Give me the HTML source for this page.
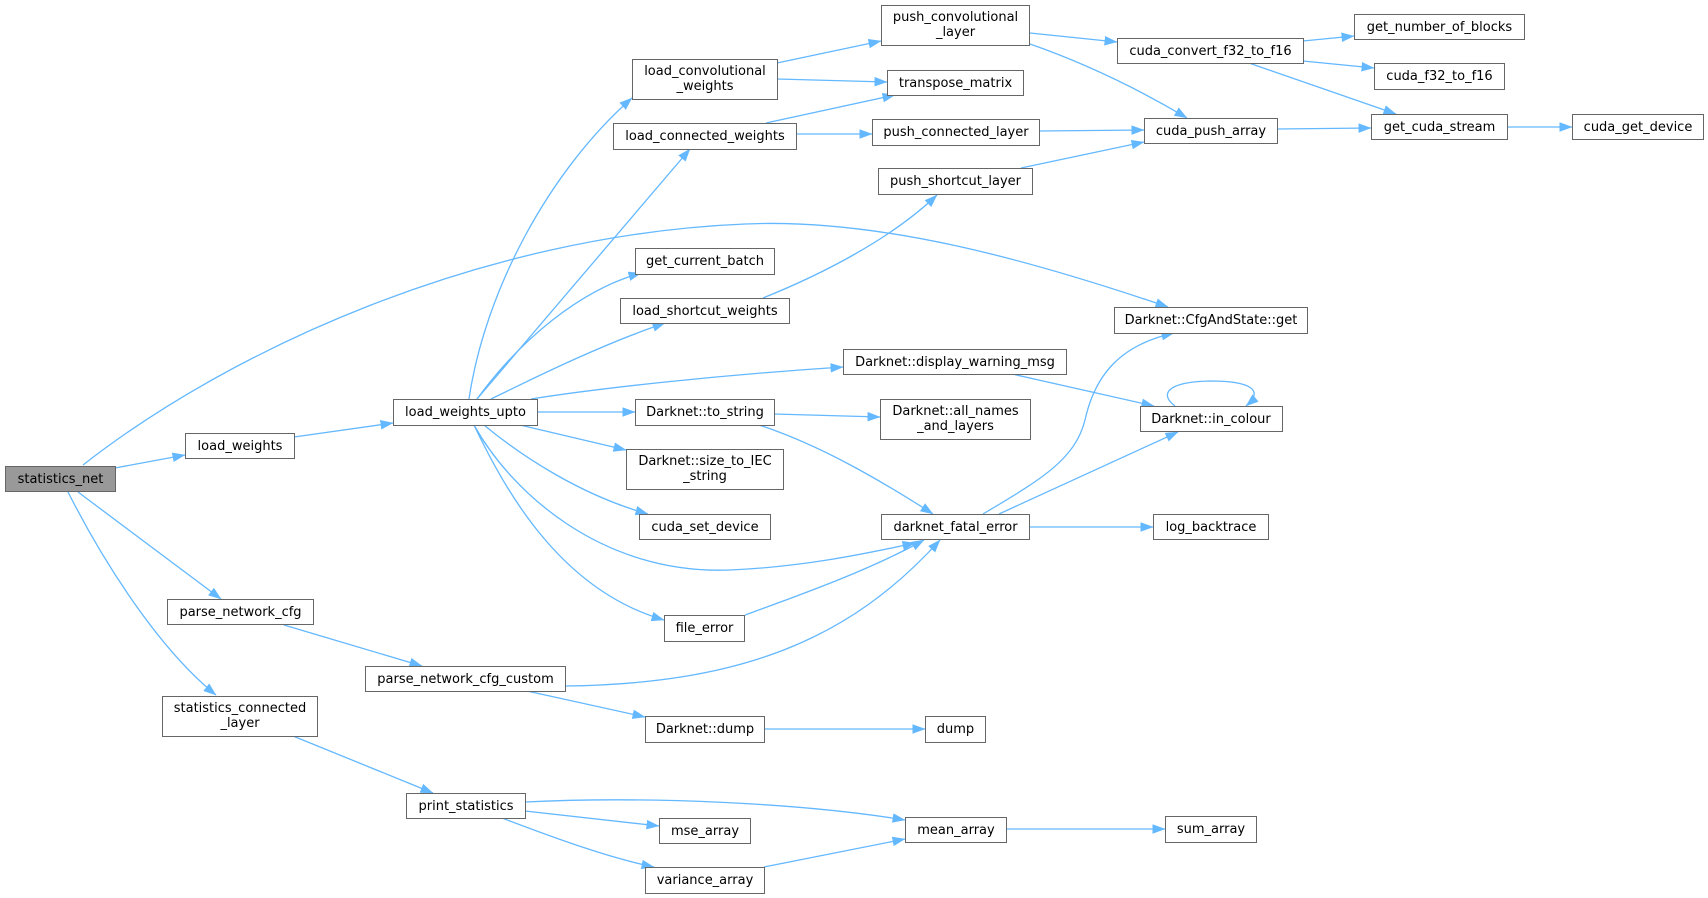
<!DOCTYPE html>
<html>
<head>
<meta charset="utf-8">
<style>
  html,body{margin:0;padding:0;background:#fff;}
  svg{display:block;}
  .n rect{fill:#fff;stroke:#666;stroke-width:1;}
  .n.root rect{fill:#999;}
  text{font-family:"DejaVu Sans","Liberation Sans",sans-serif;font-size:13px;fill:#000;text-anchor:middle;}
  .e{fill:none;stroke:#63b8ff;stroke-width:1.3;marker-end:url(#ah);}
</style>
</head>
<body>
<svg width="1708" height="898" viewBox="0 0 1708 898" xmlns="http://www.w3.org/2000/svg">
<defs>
  <marker id="ah" viewBox="0 0 13 9.5" refX="12.5" refY="4.75" markerUnits="userSpaceOnUse" markerWidth="13" markerHeight="9.5" orient="auto">
    <path d="M0,0 L13,4.75 L0,9.5 z" fill="#63b8ff"/>
  </marker>
</defs>

<!-- edges -->
<path class="e" d="M115,468 L185,455"/>
<path class="e" d="M83,465 C230,350 480,235 745,224 C880,218 1030,260 1168,307"/>
<path class="e" d="M78,492 L221,599"/>
<path class="e" d="M68,492 C105,565 160,650 216,695"/>
<path class="e" d="M294,437 L393,423"/>
<path class="e" d="M469,399 C485,290 550,170 632,98"/>
<path class="e" d="M477,399 L690,149"/>
<path class="e" d="M477,399 C520,340 580,290 641,273"/>
<path class="e" d="M491,399 C530,380 600,345 665,323"/>
<path class="e" d="M531,399 C600,388 720,375 843,367"/>
<path class="e" d="M537,412 L635,412"/>
<path class="e" d="M520,425 L626,450"/>
<path class="e" d="M484,425 C520,455 580,495 648,514"/>
<path class="e" d="M474,425 C510,490 600,575 730,570 C800,567 860,555 915,543"/>
<path class="e" d="M474,425 C505,490 560,590 664,620"/>
<path class="e" d="M777,63 L881,41"/>
<path class="e" d="M777,79 L887,82"/>
<path class="e" d="M766,123 L895,95"/>
<path class="e" d="M796,134 L872,134"/>
<path class="e" d="M1039,131 L1144,130"/>
<path class="e" d="M1021,168 L1144,142"/>
<path class="e" d="M763,298 C820,275 890,240 937,195"/>
<path class="e" d="M1030,33 L1117,42"/>
<path class="e" d="M1030,44 C1090,65 1140,90 1187,118"/>
<path class="e" d="M1303,41 L1354,36"/>
<path class="e" d="M1303,61 L1374,68"/>
<path class="e" d="M1249,63 L1396,114"/>
<path class="e" d="M1277,129 L1371,128"/>
<path class="e" d="M1507,127 L1572,127"/>
<path class="e" d="M1012,374 L1154,406"/>
<path class="e" d="M774,414 L880,417"/>
<path class="e" d="M759,425 C820,445 880,480 933,514"/>
<path class="e" d="M983,514 C1040,480 1075,460 1085,420 C1095,375 1120,345 1174,333"/>
<path class="e" d="M999,514 L1178,432"/>
<path class="e" d="M1029,527 L1153,527"/>
<path class="e" d="M1175,406 C1160,395 1165,382 1210,381 C1250,381 1265,390 1246,406"/>
<path class="e" d="M284,625 L422,666"/>
<path class="e" d="M527,691 L645,717"/>
<path class="e" d="M764,729 L925,729"/>
<path class="e" d="M293,736 L433,793"/>
<path class="e" d="M525,802 C650,796 800,803 905,820"/>
<path class="e" d="M525,811 L659,826"/>
<path class="e" d="M502,818 C560,840 610,858 654,867"/>
<path class="e" d="M764,867 L905,839"/>
<path class="e" d="M1006,829 L1165,829"/>
<path class="e" d="M565,686 C740,684 850,640 940,540"/>
<path class="e" d="M745,615 C800,595 870,570 924,540"/>

<!-- nodes -->
<g class="n root"><rect x="5.5" y="466.5" width="110" height="25"/><text x="60.5" y="483">statistics_net</text></g>
<g class="n"><rect x="185.5" y="433.5" width="109" height="25"/><text x="240" y="450">load_weights</text></g>
<g class="n"><rect x="393.5" y="399.5" width="144" height="26"/><text x="465.5" y="416">load_weights_upto</text></g>
<g class="n"><rect x="167.5" y="599.5" width="146" height="25"/><text x="240.5" y="616">parse_network_cfg</text></g>
<g class="n"><rect x="365.5" y="666.5" width="200" height="25"/><text x="465.5" y="683">parse_network_cfg_custom</text></g>
<g class="n"><rect x="162.5" y="696.5" width="155" height="40"/><text x="240" y="712">statistics_connected</text><text x="240" y="727">_layer</text></g>
<g class="n"><rect x="406.5" y="793.5" width="119" height="25"/><text x="466" y="810">print_statistics</text></g>
<g class="n"><rect x="881.5" y="5.5" width="148" height="40"/><text x="955.5" y="21">push_convolutional</text><text x="955.5" y="36">_layer</text></g>
<g class="n"><rect x="632.5" y="59.5" width="145" height="40"/><text x="705" y="75">load_convolutional</text><text x="705" y="90">_weights</text></g>
<g class="n"><rect x="887.5" y="70.5" width="136" height="25"/><text x="955.5" y="87">transpose_matrix</text></g>
<g class="n"><rect x="613.5" y="123.5" width="183" height="26"/><text x="705" y="140">load_connected_weights</text></g>
<g class="n"><rect x="872.5" y="119.5" width="167" height="26"/><text x="956" y="136">push_connected_layer</text></g>
<g class="n"><rect x="878.5" y="168.5" width="154" height="26"/><text x="955.5" y="185">push_shortcut_layer</text></g>
<g class="n"><rect x="635.5" y="248.5" width="139" height="26"/><text x="705" y="265">get_current_batch</text></g>
<g class="n"><rect x="620.5" y="298.5" width="169" height="25"/><text x="705" y="315">load_shortcut_weights</text></g>
<g class="n"><rect x="1117.5" y="38.5" width="186" height="25"/><text x="1210.5" y="55">cuda_convert_f32_to_f16</text></g>
<g class="n"><rect x="1354.5" y="14.5" width="170" height="25"/><text x="1439.5" y="31">get_number_of_blocks</text></g>
<g class="n"><rect x="1374.5" y="63.5" width="130" height="26"/><text x="1439.5" y="80">cuda_f32_to_f16</text></g>
<g class="n"><rect x="1144.5" y="118.5" width="133" height="25"/><text x="1211" y="135">cuda_push_array</text></g>
<g class="n"><rect x="1371.5" y="114.5" width="136" height="25"/><text x="1439.5" y="131">get_cuda_stream</text></g>
<g class="n"><rect x="1572.5" y="114.5" width="131" height="25"/><text x="1638" y="131">cuda_get_device</text></g>
<g class="n"><rect x="1114.5" y="307.5" width="193" height="26"/><text x="1211" y="324">Darknet::CfgAndState::get</text></g>
<g class="n"><rect x="843.5" y="349.5" width="223" height="25"/><text x="955" y="366">Darknet::display_warning_msg</text></g>
<g class="n"><rect x="635.5" y="399.5" width="139" height="26"/><text x="705" y="416">Darknet::to_string</text></g>
<g class="n"><rect x="880.5" y="399.5" width="150" height="40"/><text x="955.5" y="415">Darknet::all_names</text><text x="955.5" y="430">_and_layers</text></g>
<g class="n"><rect x="626.5" y="449.5" width="157" height="40"/><text x="705" y="465">Darknet::size_to_IEC</text><text x="705" y="480">_string</text></g>
<g class="n"><rect x="639.5" y="514.5" width="131" height="25"/><text x="705" y="531">cuda_set_device</text></g>
<g class="n"><rect x="881.5" y="514.5" width="148" height="25"/><text x="955.5" y="531">darknet_fatal_error</text></g>
<g class="n"><rect x="1140.5" y="406.5" width="142" height="25"/><text x="1211" y="423">Darknet::in_colour</text></g>
<g class="n"><rect x="1153.5" y="514.5" width="115" height="25"/><text x="1211" y="531">log_backtrace</text></g>
<g class="n"><rect x="664.5" y="615.5" width="80" height="26"/><text x="704.5" y="632">file_error</text></g>
<g class="n"><rect x="645.5" y="716.5" width="119" height="26"/><text x="705" y="733">Darknet::dump</text></g>
<g class="n"><rect x="925.5" y="716.5" width="60" height="26"/><text x="955.5" y="733">dump</text></g>
<g class="n"><rect x="659.5" y="818.5" width="91" height="25"/><text x="705" y="835">mse_array</text></g>
<g class="n"><rect x="905.5" y="817.5" width="101" height="25"/><text x="956" y="834">mean_array</text></g>
<g class="n"><rect x="645.5" y="867.5" width="119" height="26"/><text x="705" y="884">variance_array</text></g>
<g class="n"><rect x="1165.5" y="816.5" width="91" height="26"/><text x="1211" y="833">sum_array</text></g>
</svg>
</body>
</html>
